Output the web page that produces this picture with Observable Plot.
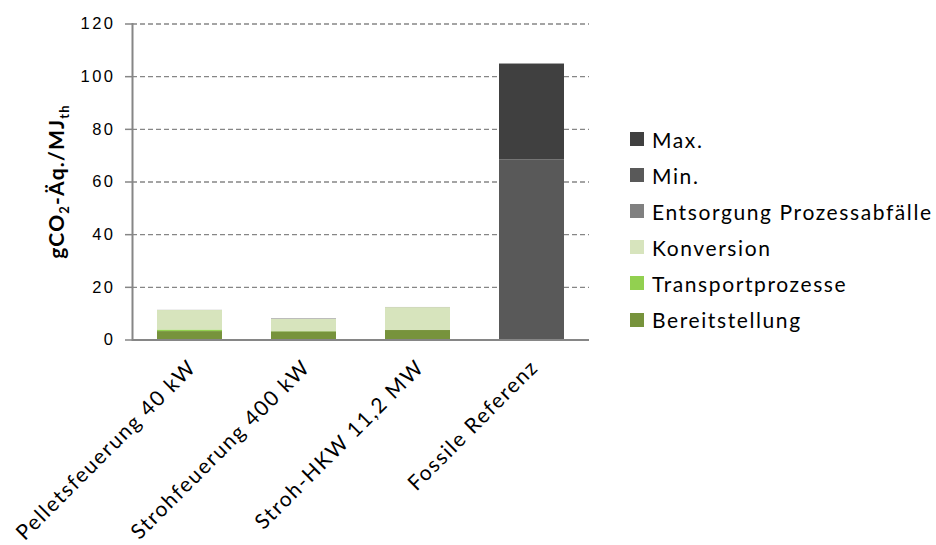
<!DOCTYPE html>
<html><head><meta charset="utf-8">
<script src="https://cdn.jsdelivr.net/npm/d3@7"></script>
<script src="https://cdn.jsdelivr.net/npm/@observablehq/plot@0.6"></script>
<style>
body{margin:0;background:#fff;}
#wrap{position:relative;width:936px;height:545px;overflow:hidden;}
#legend{position:absolute;left:630px;top:121px;font-family:Lato,sans-serif;font-size:21px;letter-spacing:1.6px;color:#000;}
#legend .row{height:36.1px;display:flex;align-items:center;white-space:nowrap;}
#legend .sw{width:14px;height:14px;margin-right:8px;flex:none;}
</style></head>
<body><div id="wrap"><div id="legend"></div></div>
<script>
const categories = ["Pelletsfeuerung 40 kW","Strohfeuerung 400 kW","Stroh-HKW 11,2 MW","Fossile Referenz"];
const seriesNames = ["Bereitstellung","Transportprozesse","Konversion","Entsorgung Prozessabfälle","Min.","Max."];
const seriesColors = ["#77933c","#92d050","#d7e4bd","#808080","#595959","#404040"];
const bereitstellung = [3.2, 3.1, 3.6, 0];
const transport = [0.6, 0.1, 0, 0];
const konversion = [7.4, 4.6, 8.7, 0];
const entsorgung = [0.05, 0.2, 0.05, 0];
const minVal = [0, 0, 0, 68.4];
const maxVal = [0, 0, 0, 36.4];
const yTicks = [0,20,40,60,80,100,120];

const seriesValues = [bereitstellung, transport, konversion, entsorgung, minVal, maxVal];
const rows = [];
seriesNames.forEach((s,i)=>categories.forEach((c,j)=>rows.push({cat:c, series:s, value:seriesValues[i][j]})));

const axisColor = "#868686";
const plot = Plot.plot({
  width:936, height:545,
  marginLeft:132, marginRight:347, marginTop:23.5, marginBottom:205.5,
  style:{fontFamily:"'Liberation Sans',Arial,sans-serif", fontSize:"16.5px", background:"#fff", overflow:"visible"},
  x:{domain:categories, paddingInner:0.43, paddingOuter:0.215, axis:null},
  y:{domain:[0,120], axis:null},
  color:{domain:seriesNames, range:seriesColors},
  marks:[
    Plot.gridY(yTicks.filter(d=>d>0), {stroke:axisColor, strokeOpacity:1, strokeDasharray:"5,3", strokeWidth:1.3}),
    Plot.barY(rows, {x:"cat", y:"value", fill:"series", order:seriesNames}),
    Plot.ruleY([0], {stroke:axisColor, strokeWidth:2}),
    Plot.axisY({ticks:yTicks, tickSize:7, tickPadding:10, stroke:axisColor, strokeWidth:1.5, fill:"#000", label:null, fontSize:16.5}),
    Plot.frame({anchor:"left", stroke:axisColor, strokeWidth:2}),
    Plot.text(categories, {x:d=>d, frameAnchor:"bottom", dx:-3, dy:18, rotate:-45, textAnchor:"end", lineAnchor:"top",
      fontFamily:"Lato,sans-serif", fontSize:21, fill:"#000"})
  ]
});
document.getElementById("wrap").appendChild(plot);

const svg = d3.select(plot);
// letter spacing for tick labels and category labels (wider reference glyphs)
svg.selectAll("g[aria-label='y-axis tick label'] text").attr("letter-spacing", "2.5px");
svg.selectAll("g[aria-label='text'] text").attr("letter-spacing", "1.6px");

// y axis label with subscripts
const lab = svg.append("text")
  .attr("transform","translate(64,181.5) rotate(-90)")
  .attr("text-anchor","middle")
  .attr("letter-spacing","1.2px")
  .attr("font-family","Lato,sans-serif").attr("font-weight","bold").attr("font-size",21).attr("fill","#000");
lab.append("tspan").text("gCO");
lab.append("tspan").attr("font-size",13).attr("dy",5).text("2");
lab.append("tspan").attr("dy",-5).text("-Äq./MJ");
lab.append("tspan").attr("font-size",13).attr("dy",5).text("th");

// legend (top: Max.)
const legend = d3.select("#legend");
seriesNames.slice().reverse().forEach((s)=>{
  const i = seriesNames.indexOf(s);
  const r = legend.append("div").attr("class","row");
  r.append("div").attr("class","sw").style("background",seriesColors[i]);
  r.append("span").text(s);
});
</script></body></html>
